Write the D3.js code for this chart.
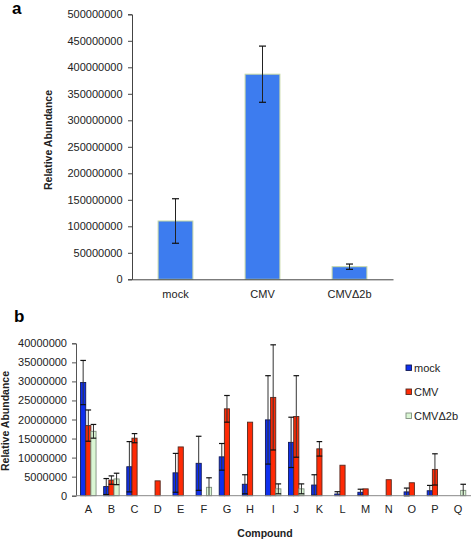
<!DOCTYPE html>
<html><head><meta charset="utf-8">
<script src="https://cdn.jsdelivr.net/npm/d3@7"></script>
<style>
body{margin:0;background:#fff;}
svg{display:block;font-family:"Liberation Sans",Arial,Helvetica,sans-serif;}
</style></head>
<body>
<script>
// ---- Panel a data ----
const groupsA = ["mock", "CMV", "CMVΔ2b"];
const valuesA = [110000000, 387000000, 23800000];
const errorsA = [42000000, 53000000, 5000000];
const ticksA = [0,50000000,100000000,150000000,200000000,250000000,300000000,350000000,400000000,450000000,500000000];

// ---- Panel b data ----
const compounds = ["A","B","C","D","E","F","G","H","I","J","K","L","M","N","O","P","Q"];
const seriesNames = ["mock", "CMV", "CMVΔ2b"];
const mockVals = [29.7e6, 2.4e6, 7.6e6, null, 6.0e6, 8.5e6, 10.2e6, 3.0e6, 19.9e6, 14.0e6, 2.8e6, 0.45e6, 0.9e6, null, 1.0e6, 1.3e6, null];
const mockErr  = [5.8e6, 2.1e6, 6.6e6, null, 5.1e6, 7.1e6, 3.5e6, 2.5e6, 11.6e6, 6.6e6, 2.7e6, 0.6e6, 0.8e6, null, 1.0e6, 1.4e6, null];
const cmvVals  = [18.4e6, 4.1e6, 15.1e6, 3.9e6, 12.8e6, null, 22.8e6, 19.3e6, 25.8e6, 20.8e6, 12.3e6, 8.0e6, 1.8e6, 4.2e6, 3.4e6, 6.9e6, null];
const cmvErr   = [4.1e6, 1.1e6, 1.2e6, 0, 0, null, 3.5e6, 0, 13.8e6, 10.7e6, 1.9e6, 0, 0, 0, 0, 4.1e6, null];
const d2bVals  = [16.9e6, 4.4e6, null, null, null, 2.2e6, null, null, 1.8e6, 1.8e6, null, null, null, null, null, null, 1.4e6];
const d2bErr   = [1.8e6, 1.5e6, null, null, null, 2.5e6, null, null, 1.3e6, 1.3e6, null, null, null, null, null, null, 1.6e6];
const ticksB = [0,5000000,10000000,15000000,20000000,25000000,30000000,35000000,40000000];

const W = 471, H = 542;
const svg = d3.select("body").append("svg").attr("width", W).attr("height", H);

// ================= Panel a =================
const xa = d3.scaleBand().domain(groupsA).range([132, 393]).paddingInner(0.6).paddingOuter(0.3);
const ya = d3.scaleLinear().domain([0, 500000000]).range([279.3, 14.3]);

svg.append("text").attr("x", 12).attr("y", 14).attr("font-size", 17).attr("font-weight", "bold").text("a");

const ga = svg.append("g");
ga.selectAll("rect.bar").data(groupsA).join("rect")
  .attr("x", d => xa(d)).attr("width", xa.bandwidth())
  .attr("y", (d,i) => ya(valuesA[i])).attr("height", (d,i) => ya(0) - ya(valuesA[i]))
  .attr("fill", "#3d7cef").attr("stroke", "#c6d8a4").attr("stroke-width", 1);

// error bars
groupsA.forEach((g,i) => {
  const cx = xa(g) + xa.bandwidth()/2, e = errorsA[i], v = valuesA[i];
  ga.append("line").attr("x1", cx).attr("x2", cx).attr("y1", ya(v+e)).attr("y2", ya(v-e)).attr("stroke", "#222").attr("stroke-width", 1);
  [v+e, v-e].forEach(t => ga.append("line").attr("x1", cx-3.5).attr("x2", cx+3.5).attr("y1", ya(t)).attr("y2", ya(t)).attr("stroke", "#111").attr("stroke-width", 1.2));
});

const yAxisA = svg.append("g").attr("transform", "translate(132,0)")
  .call(d3.axisLeft(ya).tickValues(ticksA).tickFormat(d3.format("d")).tickSize(4));
yAxisA.select(".domain").attr("stroke", "#444");
yAxisA.selectAll(".tick line").attr("stroke", "#444");
yAxisA.selectAll("text").attr("font-size", 11).attr("fill", "#222").attr("x", -9.5).attr("font-family", "Liberation Sans, Arial, sans-serif");

const xAxisA = svg.append("g").attr("transform", "translate(0,279.3)")
  .call(d3.axisBottom(xa).tickSize(0).tickPadding(11));
xAxisA.select(".domain").attr("stroke", "#444");
xAxisA.selectAll("text").attr("font-size", 11).attr("fill", "#222").attr("font-family", "Liberation Sans, Arial, sans-serif");

svg.append("text").attr("transform", "translate(52,140) rotate(-90)").attr("text-anchor", "middle")
  .attr("font-size", 10.5).attr("font-weight", "bold").attr("fill", "#222").text("Relative Abundance");

// ================= Panel b =================
svg.append("text").attr("x", 14).attr("y", 322).attr("font-size", 17).attr("font-weight", "bold").text("b");

const xb = d3.scaleBand().domain(compounds).range([76.75, 469.6]).paddingInner(0.33).paddingOuter(0.165);
const xs = d3.scaleBand().domain(seriesNames).range([0, xb.bandwidth()]);
const yb = d3.scaleLinear().domain([0, 40000000]).range([495.7, 343.3]);

const colors = {"mock": "#0f30ee", "CMV": "#ff2a05", "CMVΔ2b": "#daf6d4"};
const strokes = {"mock": "#111a55", "CMV": "#552a20", "CMVΔ2b": "#7f8f7f"};
const vals = {"mock": mockVals, "CMV": cmvVals, "CMVΔ2b": d2bVals};
const errs = {"mock": mockErr, "CMV": cmvErr, "CMVΔ2b": d2bErr};

const barData = [];
compounds.forEach((c,i) => seriesNames.forEach(s => {
  if (vals[s][i] != null) barData.push({c, s, v: vals[s][i], e: errs[s][i] || 0});
}));

const gb = svg.append("g");
gb.selectAll("rect").data(barData).join("rect")
  .attr("x", d => xb(d.c) + xs(d.s)).attr("width", xs.bandwidth())
  .attr("y", d => yb(d.v)).attr("height", d => yb(0) - yb(d.v))
  .attr("fill", d => colors[d.s]).attr("stroke", d => strokes[d.s]).attr("stroke-width", 0.9);

barData.filter(d => d.e > 0).forEach(d => {
  const cx = xb(d.c) + xs(d.s) + xs.bandwidth()/2;
  const lo = Math.max(0, d.v - d.e);
  gb.append("line").attr("x1", cx).attr("x2", cx).attr("y1", yb(d.v + d.e)).attr("y2", yb(lo)).attr("stroke", "#333").attr("stroke-width", 1);
  [d.v + d.e, d.v - d.e].filter(t => t >= 0).forEach(t => gb.append("line")
    .attr("x1", cx-2.8).attr("x2", cx+2.8).attr("y1", yb(t)).attr("y2", yb(t)).attr("stroke", "#111").attr("stroke-width", 1.2));
});

const yAxisB = svg.append("g").attr("transform", "translate(76,0)")
  .call(d3.axisLeft(yb).tickValues(ticksB).tickFormat(d3.format("d")).tickSize(4));
yAxisB.select(".domain").attr("stroke", "#555");
yAxisB.selectAll(".tick line").attr("stroke", "#555");
yAxisB.selectAll("text").attr("font-size", 11).attr("fill", "#222").attr("x", -9).attr("font-family", "Liberation Sans, Arial, sans-serif");

const xAxisB = svg.append("g").attr("transform", "translate(0,495.7)")
  .call(d3.axisBottom(xb).tickSize(0).tickPadding(10));
xAxisB.select(".domain").attr("stroke", "#888").attr("d", "M76,0H471");
xAxisB.selectAll("text").attr("font-size", 11).attr("fill", "#222").attr("font-family", "Liberation Sans, Arial, sans-serif");

svg.append("text").attr("x", 265).attr("y", 537).attr("text-anchor", "middle")
  .attr("font-size", 10.5).attr("font-weight", "bold").attr("fill", "#222").text("Compound");

svg.append("text").attr("transform", "translate(8.5,421) rotate(-90)").attr("text-anchor", "middle")
  .attr("font-size", 10.5).attr("font-weight", "bold").attr("fill", "#222").text("Relative Abundance");

// legend
const lg = svg.append("g");
seriesNames.forEach((s,i) => {
  const y = 368 + i*24;
  lg.append("rect").attr("x", 406).attr("y", y-3).attr("width", 5.5).attr("height", 5.5)
    .attr("fill", colors[s]).attr("stroke", strokes[s]).attr("stroke-width", 0.9);
  lg.append("text").attr("x", 414).attr("y", y+4).attr("font-size", 11).attr("fill", "#222").text(s);
});
</script>
</body></html>
